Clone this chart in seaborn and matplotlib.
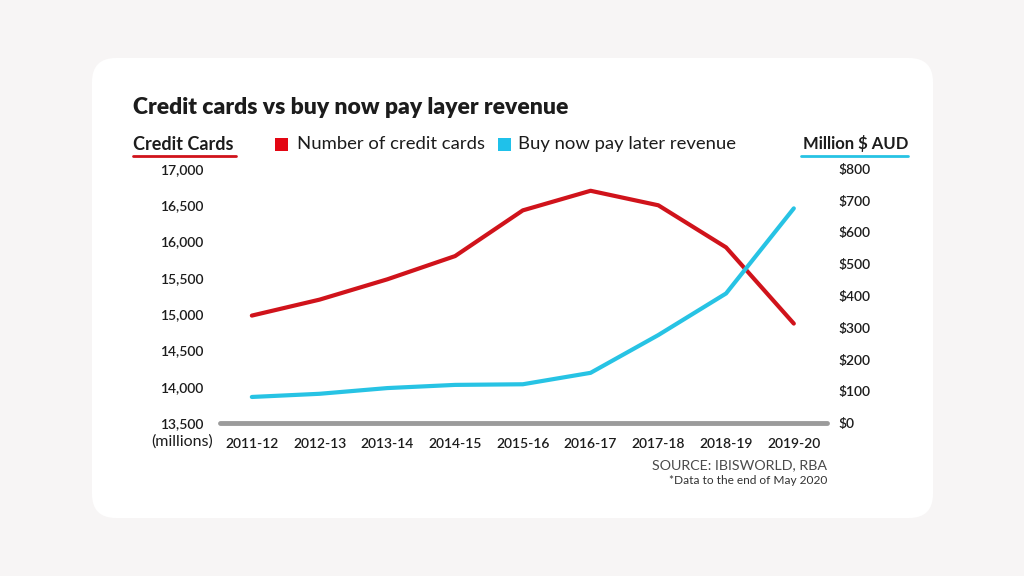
import numpy as np
import pandas as pd
import matplotlib
matplotlib.use("Agg")
import matplotlib.pyplot as plt
import matplotlib.transforms as mtransforms
from matplotlib.patches import FancyBboxPatch, Rectangle
from matplotlib.lines import Line2D
import seaborn as sns

years = ['2011-12', '2012-13', '2013-14', '2014-15', '2015-16',
         '2016-17', '2017-18', '2018-19', '2019-20']
credit_cards = [14980, 15200, 15480, 15800, 16430, 16700, 16500, 15920, 14870]
bnpl_revenue = [82, 92, 110, 120, 122, 158, 277, 408, 676]

left_ticks = [13500, 14000, 14500, 15000, 15500, 16000, 16500, 17000]
right_ticks = [0, 100, 200, 300, 400, 500, 600, 700, 800]

RED = '#d0131b'
CYAN = '#27c3e4'
INK = '#1c1c1c'

sns.set_theme(style='white')
plt.rcParams['font.family'] = ['Lato', 'DejaVu Sans']

W, H = 1024, 576
fig = plt.figure(figsize=(W / 100, H / 100), dpi=100)
fig.patch.set_facecolor('#f7f5f5')
px = mtransforms.IdentityTransform()


def fx(x):
    return x / W


def fy(y):
    return 1 - y / H


# white card
card = FancyBboxPatch((92, H - 518), 841, 460,
                      boxstyle="round,pad=0,rounding_size=24",
                      transform=px, fc='white', ec='none', zorder=-1)
fig.add_artist(card)

ax = fig.add_axes([fx(220), fy(423), (827 - 220) / W, (423 - 169) / H])
ax.set_facecolor('none')
ax2 = ax.twinx()

df = pd.DataFrame({'year': years, 'cards': credit_cards, 'bnpl': bnpl_revenue})
sns.lineplot(data=df, x='year', y='cards', ax=ax, color=RED, lw=3, sort=False)
sns.lineplot(data=df, x='year', y='bnpl', ax=ax2, color=CYAN, lw=3, sort=False)

ax.set_ylim(13500, 17000)
ax2.set_ylim(0, 800)
ax.set_xlim(-0.47, 8.49)
ax.axhline(13500, color='#9b9b9b', lw=3.5, clip_on=False, zorder=1)

ax.set_yticks(left_ticks)
ax.set_yticklabels([f"{v:,}" for v in left_ticks])
ax2.set_yticks(right_ticks)
ax2.set_yticklabels([f"${v}" for v in right_ticks])

for a in (ax, ax2):
    for s in a.spines.values():
        s.set_visible(False)
    a.set_xlabel('')
    a.set_ylabel('')
ax.tick_params(axis='y', length=0, pad=12, labelsize=10, labelcolor=INK)
ax2.tick_params(axis='y', length=0, pad=8, labelsize=10, labelcolor=INK)
ax.tick_params(axis='x', length=0, pad=11, labelsize=10, labelcolor=INK)
for lab in ax.get_yticklabels() + ax2.get_yticklabels() + ax.get_xticklabels():
    lab.set_fontweight('semibold')

# title and header row
fig.text(fx(133), fy(108), "Credit cards vs buy now pay layer revenue",
         fontsize=16.5, weight='heavy', color=INK, va='center', ha='left')
fig.text(fx(133), fy(144), "Credit Cards", fontsize=13, weight='bold',
         color=INK, va='center', ha='left')
fig.add_artist(Line2D([133, 236], [H - 156, H - 156], transform=px, color=RED, lw=2))
fig.text(fx(908), fy(144), "Million $ AUD", fontsize=12, weight='bold',
         color=INK, va='center', ha='right')
fig.add_artist(Line2D([801, 908], [H - 156, H - 156], transform=px, color=CYAN, lw=2))

fig.add_artist(Rectangle((275, H - 151), 13, 13, transform=px, fc='#e30613', ec='none'))
fig.text(fx(297), fy(144), "Number of credit cards", fontsize=13.3,
         color=INK, va='center', ha='left')
fig.add_artist(Rectangle((498, H - 151), 13, 13, transform=px, fc='#1fc1ea', ec='none'))
fig.text(fx(518), fy(144), "Buy now pay later revenue", fontsize=13.3,
         color=INK, va='center', ha='left')

fig.text(fx(213), fy(442), "(millions)", fontsize=11.5, color=INK,
         va='center', ha='right')
fig.text(fx(827), fy(465), "SOURCE: IBISWORLD, RBA", fontsize=10.3,
         color='#4a4a4a', va='center', ha='right')
fig.text(fx(827), fy(481), "*Data to the end of May 2020", fontsize=8.6,
         color='#333333', va='center', ha='right')

fig.savefig('out.png', dpi=100, facecolor=fig.get_facecolor())
